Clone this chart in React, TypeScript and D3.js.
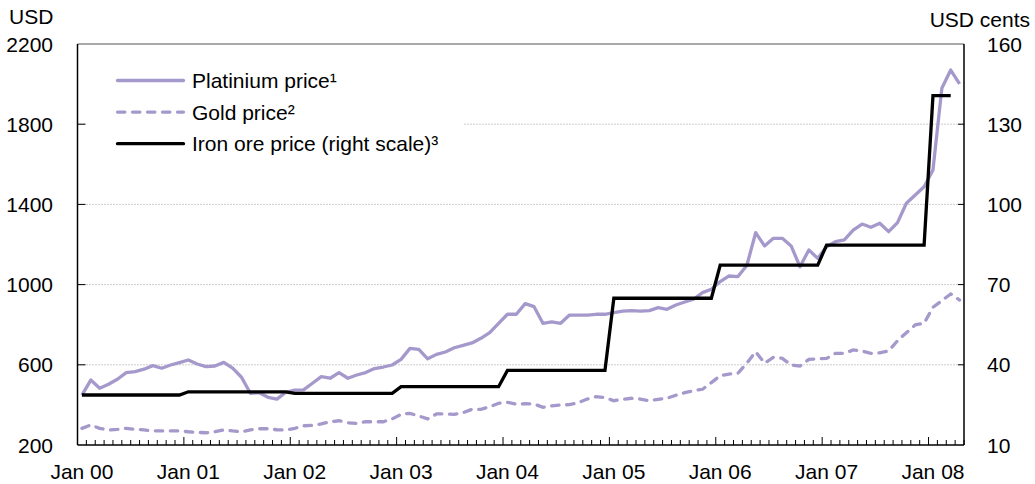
import React from 'react';
import * as d3 from 'd3';

// monthly averages, Jan 2000 – Apr 2008 (USD per ounce)
const platinum = [
  449, 524, 483, 503, 528, 561, 566, 578, 596, 583, 599, 611,
  624, 604, 591, 594, 612, 583, 538, 458, 461, 438, 429, 463,
  474, 475, 508, 541, 533, 561, 533, 549, 561, 581, 589, 599,
  627, 682, 677, 630, 652, 664, 685, 697, 709, 732, 760, 807,
  852, 852, 905, 890, 807, 814, 807, 848, 848, 848, 852, 852,
  860, 868, 870, 868, 870, 885, 877, 898, 913, 927, 960, 977,
  1015, 1043, 1040, 1095, 1259, 1193, 1231, 1231, 1193, 1089, 1173, 1131,
  1189, 1214, 1223, 1272, 1302, 1286, 1306, 1264, 1309, 1406, 1447, 1488,
  1572, 1979, 2070, 2001,
];

const gold = [
  283, 300, 283, 275, 278, 283, 278, 275, 271, 270, 270, 270,
  266, 263, 261, 266, 275, 270, 266, 275, 281, 281, 276, 275,
  283, 296, 298, 305, 316, 321, 311, 308, 316, 316, 316, 330,
  353, 358, 345, 330, 355, 355, 353, 361, 378, 378, 391, 408,
  413, 404, 406, 405, 388, 395, 400, 401, 411, 429, 441, 436,
  421, 428, 433, 429, 421, 428, 433, 448, 461, 471, 478, 511,
  546, 554, 558, 608, 665, 608, 637, 632, 599, 594, 627, 630,
  632, 657, 657, 674, 669, 657, 660, 669, 720, 760, 799, 807,
  887, 920, 953, 923,
];

// USD cents per dry metric tonne unit, Jan 2000 – Mar 2008
const ironOre = [
  28.7, 28.7, 28.7, 28.7, 28.7, 28.7, 28.7, 28.7, 28.7, 28.7, 28.7, 28.7,
  29.9, 29.9, 29.9, 29.9, 29.9, 29.9, 29.9, 29.9, 29.9, 29.9, 29.9, 29.9,
  29.3, 29.3, 29.3, 29.3, 29.3, 29.3, 29.3, 29.3, 29.3, 29.3, 29.3, 29.3,
  31.8, 31.8, 31.8, 31.8, 31.8, 31.8, 31.8, 31.8, 31.8, 31.8, 31.8, 31.8,
  37.9, 37.9, 37.9, 37.9, 37.9, 37.9, 37.9, 37.9, 37.9, 37.9, 37.9, 37.9,
  64.9, 64.9, 64.9, 64.9, 64.9, 64.9, 64.9, 64.9, 64.9, 64.9, 64.9, 64.9,
  77.3, 77.3, 77.3, 77.3, 77.3, 77.3, 77.3, 77.3, 77.3, 77.3, 77.3, 77.3,
  84.8, 84.8, 84.8, 84.8, 84.8, 84.8, 84.8, 84.8, 84.8, 84.8, 84.8, 84.8,
  140.7, 140.7, 140.7,
];

const yearLabels = ['Jan 00', 'Jan 01', 'Jan 02', 'Jan 03', 'Jan 04', 'Jan 05', 'Jan 06', 'Jan 07', 'Jan 08'];
const leftTicks = [200, 600, 1000, 1400, 1800, 2200];
const rightTicks = [10, 40, 70, 100, 130, 160];
const totalMonths = 100; // Jan 00 .. end of Apr 08

const legendItems = [
  { label: 'Platinium price¹', key: 'plat' },
  { label: 'Gold price²', key: 'gold' },
  { label: 'Iron ore price (right scale)³', key: 'iron' },
];

const PURPLE = '#a599cc';
const FONT = '"Liberation Sans", Arial, Helvetica, sans-serif';
const FS = 21;

export default function App() {
  const width = 1035;
  const height = 484;
  const margin = { top: 44, right: 71, bottom: 39, left: 77.5 };
  const x0 = margin.left;
  const x1 = width - margin.right;
  const y0 = height - margin.bottom;
  const y1 = margin.top;

  const x = d3.scaleLinear().domain([0, totalMonths]).range([x0, x1]);
  const yL = d3.scaleLinear().domain([200, 2200]).range([y0, y1]);
  const yR = d3.scaleLinear().domain([10, 160]).range([y0, y1]);

  const lineL = d3
    .line<number>()
    .x((d, i) => x(i + 0.5))
    .y((d) => yL(d));
  const lineR = d3
    .line<number>()
    .x((d, i) => x(i + 0.5))
    .y((d) => yR(d));

  const monthTicks = d3.range(0, totalMonths + 1);

  // legend sample geometry
  const legX = 117.5;
  const legW = 66;
  const legY = 80.5;
  const legStep = 31.6;

  return (
    <svg
      width={width}
      height={height}
      style={{ position: 'absolute', left: 0, top: 0, background: '#fff' }}
      fontFamily={FONT}
    >
      {/* horizontal gridlines */}
      {leftTicks.slice(1, -1).map((t) => (
        <line
          key={'g' + t}
          x1={x0}
          x2={x1}
          y1={yL(t)}
          y2={yL(t)}
          stroke="#9a9a9a"
          strokeWidth={1}
          strokeDasharray="1,2"
        />
      ))}
      {/* top border */}
      <line x1={x0} x2={x1} y1={y1} y2={y1} stroke="#555" strokeWidth={1} />

      {/* legend background */}
      <rect x={86} y={58} width={378} height={104} fill="#fff" />

      {/* axis ticks inside frame */}
      {leftTicks.slice(1, -1).map((t) => (
        <g key={'t' + t}>
          <line x1={x0} x2={x0 + 8} y1={yL(t)} y2={yL(t)} stroke="#000" strokeWidth={1} />
          <line x1={x1 - 6} x2={x1} y1={yL(t)} y2={yL(t)} stroke="#000" strokeWidth={1} />
        </g>
      ))}
      {monthTicks.map((m) => (
        <line
          key={'m' + m}
          x1={x(m)}
          x2={x(m)}
          y1={y0}
          y2={y0 - (m % 12 === 0 ? 8 : 5)}
          stroke="#000"
          strokeWidth={1}
        />
      ))}

      {/* series */}
      <path
        d={lineL(gold) || ''}
        fill="none"
        stroke={PURPLE}
        strokeWidth={3.3}
        strokeDasharray="7.4,7.6"
        strokeLinecap="round"
      />
      <path d={lineL(platinum) || ''} fill="none" stroke={PURPLE} strokeWidth={3.3} strokeLinejoin="round" />
      <path d={lineR(ironOre) || ''} fill="none" stroke="#000" strokeWidth={3.3} strokeLinejoin="miter" />

      {/* frame */}
      <line x1={x0} x2={x0} y1={y1} y2={y0} stroke="#000" strokeWidth={1.5} />
      <line x1={x1} x2={x1} y1={y1} y2={y0} stroke="#000" strokeWidth={1.5} />
      <line x1={x0} x2={x1} y1={y0} y2={y0} stroke="#000" strokeWidth={1.5} />

      {/* left axis labels */}
      <text x={9} y={24} fontSize={FS} fill="#000">USD</text>
      {leftTicks.map((t) => (
        <text key={'l' + t} x={53} y={yL(t)} dy="0.36em" textAnchor="end" fontSize={FS} fill="#000">
          {t}
        </text>
      ))}

      {/* right axis labels */}
      <text x={1030} y={27} textAnchor="end" fontSize={FS} fill="#000">USD cents</text>
      {rightTicks.map((t) => (
        <text key={'r' + t} x={987} y={yR(t)} dy="0.36em" fontSize={FS} fill="#000">
          {t}
        </text>
      ))}

      {/* x labels */}
      {yearLabels.map((lab, i) => (
        <text key={lab} x={x(i * 12 + 0.5)} y={479} textAnchor="middle" fontSize={FS} fill="#000">
          {lab}
        </text>
      ))}

      {/* legend */}
      {legendItems.map((it, i) => {
        const yy = legY + i * legStep;
        return (
          <g key={it.key}>
            <line
              x1={legX}
              x2={legX + legW}
              y1={yy}
              y2={yy}
              stroke={it.key === 'iron' ? '#000' : PURPLE}
              strokeWidth={3.3}
              strokeLinecap="round"
              strokeDasharray={it.key === 'gold' ? '7.4,7.6' : undefined}
            />
            <text x={192} y={yy} dy="0.36em" fontSize={FS} fill="#000">
              {it.label}
            </text>
          </g>
        );
      })}
    </svg>
  );
}
